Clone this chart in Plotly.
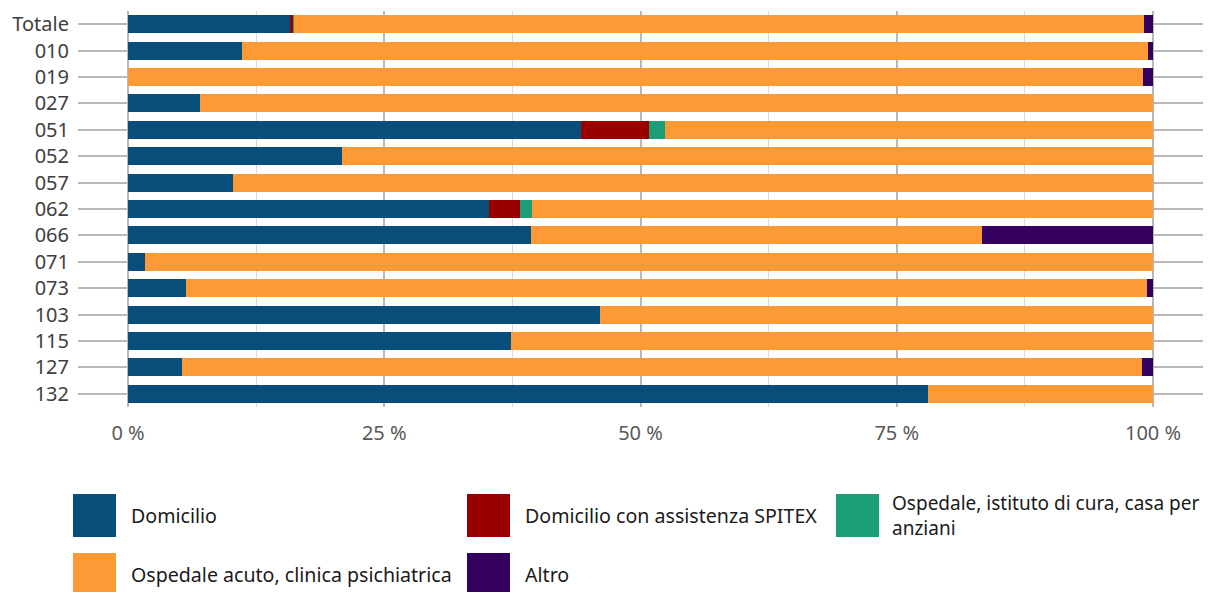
import plotly.graph_objects as go

categories = ["Totale", "010", "019", "027", "051", "052", "057", "062", "066",
              "071", "073", "103", "115", "127", "132"]

series_names = ["Domicilio", "Domicilio con assistenza SPITEX",
                "Ospedale, istituto di cura, casa per<br>anziani",
                "Ospedale acuto, clinica psichiatrica", "Altro"]

domicilio = [15.8, 11.1, 0.0, 7.0, 44.2, 20.9, 10.2, 35.2, 39.3, 1.7, 5.7, 46.0, 37.4, 5.3, 78.0]
spitex = [0.3, 0.0, 0.0, 0.0, 6.6, 0.0, 0.0, 3.0, 0.0, 0.0, 0.0, 0.0, 0.0, 0.0, 0.0]
istituto = [0.1, 0.0, 0.0, 0.0, 1.6, 0.0, 0.0, 1.2, 0.0, 0.0, 0.0, 0.0, 0.0, 0.0, 0.0]
ospedale_acuto = [82.9, 88.4, 99.0, 93.0, 47.6, 79.1, 89.8, 60.6, 44.0, 98.3, 93.7, 54.0, 62.6, 93.6, 22.0]
altro = [0.9, 0.5, 1.0, 0.0, 0.0, 0.0, 0.0, 0.0, 16.7, 0.0, 0.6, 0.0, 0.0, 1.1, 0.0]

tick_vals = [0, 25, 50, 75, 100]
tick_text = ["0 %", "25 %", "50 %", "75 %", "100 %"]
minor_vals = [12.5, 37.5, 62.5, 87.5]

colors = ["#074f7a", "#990000", "#1b9e77", "#fe9a36", "#34005f"]
series_values = [domicilio, spitex, istituto, ospedale_acuto, altro]

FONT = "Noto Sans"
OFF = 8  # page body margin
W, H = 1212 - OFF, 592 - OFF
L, R, T, B = 78 - OFF, 9, 11 - OFF, 185
PW, PH = W - L - R, H - T - B

fig = go.Figure()
for name, vals, col in zip(series_names, series_values, colors):
    fig.add_trace(go.Bar(
        y=categories, x=vals, name=name, orientation="h",
        marker=dict(color=col, line=dict(width=0)),
        showlegend=False,
        hovertemplate="%{y}: %{x:.1f} %<extra></extra>",
    ))

fig.update_layout(
    width=W, height=H,
    margin=dict(l=L, r=R, t=T, b=B, pad=0),
    barmode="stack", bargap=0.32,
    plot_bgcolor="white", paper_bgcolor="white",
    font=dict(family=FONT, size=20, color="#404040"),
    xaxis=dict(
        range=[-4.878, 104.878], tickvals=tick_vals, ticktext=tick_text,
        showgrid=True, gridcolor="#b8b8b8", gridwidth=2,
        zeroline=False, showline=False, ticks="",
        tickfont=dict(size=20, color="#595959"),
        minor=dict(tickvals=minor_vals, showgrid=True, gridcolor="#d9d9d9", gridwidth=1, ticks=""),
        ticklabelstandoff=12,
    ),
    yaxis=dict(
        autorange="reversed", type="category",
        showgrid=True, gridcolor="#b8b8b8", gridwidth=2,
        zeroline=False, showline=False, ticks="",
        tickfont=dict(size=20, color="#404040"),
        ticklabelstandoff=8,
    ),
)

def px_x(px):
    return (px - OFF - L) / PW

def px_y(py):
    return (H - B - (py - OFF)) / PH

legend_items = [
    (0, 73, 494, 131, 19.6),
    (3, 73, 553, 131, 19.6),
    (1, 467, 494, 525, 19.6),
    (4, 467, 553, 525, 19.6),
    (2, 836, 494, 892, 19),
]
SW = 43
for idx, sx, sy, tx, fs in legend_items:
    fig.add_shape(type="rect", xref="paper", yref="paper",
                  x0=px_x(sx), x1=px_x(sx + SW), y0=px_y(sy + SW), y1=px_y(sy),
                  fillcolor=colors[idx], line=dict(width=0), layer="above")
    fig.add_annotation(xref="paper", yref="paper", x=px_x(tx - 2), y=px_y(sy + SW / 2),
                       text=series_names[idx], showarrow=False,
                       xanchor="left", yanchor="middle", align="left",
                       font=dict(family=FONT, size=fs, color="#1a1a1a"))

fig.write_html("out.html")
